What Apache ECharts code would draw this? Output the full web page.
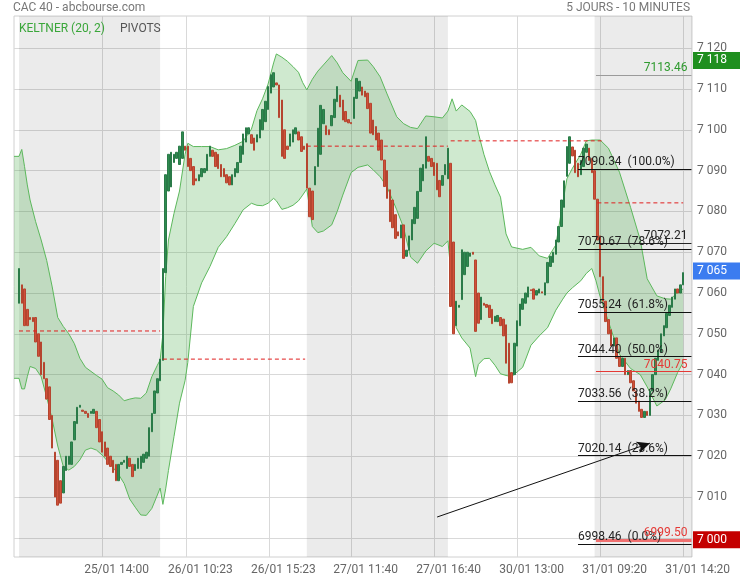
<!DOCTYPE html>
<html><head><meta charset="utf-8">
<script src="https://cdn.jsdelivr.net/npm/echarts@6/dist/echarts.min.js"></script>
<style>html,body{margin:0;padding:0;background:#fff}#c{width:740px;height:580px}</style>
</head><body><div id="c"></div>
<script>
// ---------- DATA ----------
const candleOpen = [
7057.5,7062,7061,7056,7054,7054,7054,7050,7048,7043,7039,7037,7030,7021,7019,7014,7011,7016.5,7018,7018,7024,7028,7032,7031.3,7031,7030.5,7030.5,7030.5,7031,7029,7026,7023.5,7022,7020,7019,7018,7014,7018,7018.5,7017,7019.5,7018,7016.5,7017,7017,7018.5,7019.5,7020,7026,7030.5,7035.5,7038.5,
7043.5,7065,7085,7086,7092,7093,7091.5,7093,7096,7096,7093,7091,7088,7087.5,7088.5,7089.5,7090,7093.5,7095,7094.5,7094,7091.5,7090.5,7089,7088.5,7086.5,7088.5,7089.5,7092,7094,7097,7099,7098.8,7098,7097,7098,7100,7102,7105,7109,7110.5,7111.5,7111,7107.3,7100,7096,7096,7097,7099,7099.5,7098.3,7096,
7096.6,7085.7,7085,7086.5,7091,7094,7101.5,7101,7100,7101,7103,7106.9,7108.5,7107.3,7104.5,7102.5,7101.8,7102.8,7107.7,7109.5,7110.5,7109.5,7109,7106.5,7102.4,7100.8,7099.2,7097.5,7092.6,7090,7085.3,7082.8,7079.2,7075,7073.5,7076.7,7069,7070.5,7073,7077,7078.3,7084.9,7087.5,7090.6,7093.5,7093,7092,7091.8,7087.6,7086.4,7089,7088,
7091.8,7072.5,7052,7056.5,7058.4,7064.5,7066.5,7069,7070,7068.1,7060,7053.5,7057.5,7057.2,7057,7056,7053,7053,7054,7053.6,7052.2,7047.7,7040.5,7040,7047,7052,7056,7057.5,7059,7060.8,7061,7059.5,7060,7060.3,7059.5,7062.5,7066.5,7067.5,7069.5,7072.5,7076.3,7081,7088.6,7091.8,7095.8,7095,7091.8,7089,7091,7094.5,7095.5,7093,
7090,7083,7074,7064,7058,7053.5,7051,7047,7049,7044.5,7042,7044,7040,7041,7038.5,7036,7033.5,7031.5,7029.5,7031,7030,7036,7040,7043.5,7045.5,7049.5,7051.5,7054.5,7056.5,7058.5,7061,7060,7062];
const candleClose = [
7066,7057.5,7052,7052,7053.5,7053,7048,7044.5,7040,7039,7034,7029,7022,7010,7008,7008.5,7017.5,7020,7020,7023.5,7028.5,7032,7032.5,7031,7030.5,7029.5,7031,7031.5,7027,7023.5,7021,7020,7018,7017.5,7016,7014,7018,7018.5,7019,7020,7017.5,7015,7018,7019.5,7020,7020.5,7021,7027,7030.5,7036,7039,7043.8,
7066,7089,7094,7094.5,7094,7094.5,7096,7099.5,7095,7091,7090,7086.5,7087.5,7089,7090.5,7090.5,7094,7096,7093.5,7091,7090.5,7088.5,7088.5,7087,7086.5,7089,7090.5,7092,7096,7099,7100.5,7100.5,7096.7,7095,7098.8,7102.5,7105,7107,7110.6,7113.5,7114,7111,7103,7093.5,7093,7095.2,7099,7100,7100.5,7097.5,7094.7,7095.2,
7085.7,7078.7,7078,7091,7100.4,7106,7105,7098.8,7098.8,7103.5,7107.5,7110.6,7105.6,7102.4,7102,7101.7,7101.5,7108,7112.6,7111.9,7108.5,7108.1,7105.2,7099.2,7098.8,7097.5,7095,7092.6,7086.1,7083.2,7077.5,7076,7073.4,7074,7076.7,7068.5,7070.5,7074,7078,7081,7084.9,7090.6,7091.5,7098.3,7092.3,7091,7088.8,7085.3,7083.6,7088.8,7091.5,7095.5,
7056.7,7050,7058,7057,7070.6,7070,7070,7069.8,7069.5,7050.6,7052.6,7059,7057,7056.5,7054,7052.5,7054.3,7054.5,7052,7049.5,7042.8,7037.9,7038,7047.7,7053.2,7057.3,7058.6,7060,7061.5,7060.6,7058.5,7060.6,7061,7060,7062.5,7067.5,7069,7070,7073,7076.3,7082.8,7087.5,7095.9,7098.3,7093.6,7089.5,7088.5,7092.5,7095.5,7096.5,7092.5,7089.5,
7083,7073,7064,7058,7053,7050,7047,7049,7044,7042,7044,7040,7041,7038,7036,7033,7031,7029.5,7031,7030,7036,7040,7044,7046,7050,7052,7055,7057,7059,7061,7060,7062,7065];
const candleHigh = [
7070.5,7069,7062,7057,7056,7055,7055,7051,7049,7045,7040.5,7038,7031,7022,7020,7015,7019,7021.5,7023,7024.5,7029.5,7034.5,7034,7033,7032.5,7032,7032,7033,7032,7030,7027,7024.5,7023,7021,7020,7019,7019.5,7020,7022,7021,7020.5,7019,7019,7020.5,7024.5,7021.5,7023,7028,7031,7037,7040,7044.5,
7067,7099.5,7098,7096,7098,7096.5,7103,7103,7097.5,7097,7096,7092,7092,7090.5,7092,7093,7095,7100.5,7100,7095.5,7095,7092.5,7091.5,7090,7089.5,7090,7091.5,7093,7097,7100,7103,7101.5,7100,7099,7099.5,7103.5,7106,7110,7111.5,7117,7116.5,7112.5,7112,7108,7101,7097,7103,7101.5,7101.5,7100,7099,7097,
7097,7086.5,7086,7092,7102.5,7107,7106,7102,7101,7109,7110,7113,7109.5,7108,7105,7103.5,7103,7109,7117.5,7114,7111.5,7110.5,7109.8,7107,7103,7101.5,7100,7098.5,7093.5,7091,7086,7083.5,7080,7078,7080,7077.5,7073,7075.5,7079.5,7083.5,7088,7093,7096,7103.2,7096,7094,7093,7092.5,7088.5,7089.5,7092.5,7097.5,
7093,7074,7059,7060,7078,7072,7075,7071,7071,7070,7061,7066,7060,7059,7057.5,7057,7056,7056.5,7055.5,7054.5,7053,7048.5,7043,7049,7055,7060,7061,7062,7063.5,7062,7062,7062,7062.5,7061.5,7064,7069,7070.5,7071.5,7074.5,7078,7084,7089,7102,7103.5,7097.5,7096,7092.5,7093.5,7096.5,7097.5,7097,7094,
7092,7084,7075,7066,7059,7055,7052,7050,7050,7045.5,7045,7045,7042.5,7042,7039.5,7037,7035,7032.5,7032,7032,7037,7041,7045,7047,7051,7053,7056,7058.5,7060.5,7062,7062.5,7063,7070.5];
const candleLow = [
7057,7055,7047,7047,7051,7052,7047,7043,7038,7035.5,7032,7027,7020,7008.5,7000.5,7004,7009,7015,7016,7017,7022,7027,7025,7029.5,7029,7027.5,7028.5,7027,7025.5,7021.5,7019,7018,7016,7010,7012,7012,7013,7016,7013.5,7015.5,7016,7010,7014.5,7015.5,7013,7016,7018.5,7019,7024,7030,7034.5,7038,
7042.5,7063,7083,7084,7090,7091,7091,7092,7092.5,7089.5,7082.5,7082.5,7082.5,7086,7087,7084.5,7088.5,7092,7090,7089,7088,7086.5,7086.5,7084,7085,7085.5,7087.5,7088.5,7090,7092.5,7094,7097.5,7095.5,7090.5,7095.5,7097,7099,7101,7104,7106,7109.5,7110,7101.5,7087,7090.5,7092,7093.5,7095.5,7097.5,7096,7092.5,7094.2,
7085,7073.8,7071.4,7085.5,7090,7093,7100.5,7098,7097.5,7100,7102,7105.5,7104,7101.5,7100.5,7100.5,7100,7101.5,7106,7107.5,7107.5,7107,7104.5,7098,7097.2,7096,7094,7090.2,7085,7082,7076.5,7072.5,7068.9,7071.5,7072,7064.8,7067,7069,7071.8,7075.5,7077.5,7083,7086,7089,7088,7089.5,7087.5,7082,7081.5,7085,7088,7087,
7053,7041.6,7042,7047,7055,7062,7063,7066,7068.5,7049.5,7037.9,7051.5,7055,7053.5,7052,7050,7051.5,7052,7049.5,7046,7041.5,7031.4,7035,7038.5,7046,7050.5,7054.5,7056,7057.5,7058,7057,7058,7058.5,7054,7058.5,7061,7065,7066,7068,7071,7075,7079.5,7087,7090,7092,7088,7086.5,7088,7090,7093.5,7091.5,7081,
7081,7070,7062,7055,7050,7047.5,7043,7044,7041,7039,7038,7036,7037,7035,7033,7030.5,7027,7026,7027,7025.5,7029,7034,7038.5,7042,7044,7048,7050,7053,7055.5,7057,7058.5,7059,7061];

// Keltner channel, read at these candle positions
const bandPos = [-1.8,0,1,2,3,4,6,8,10,12,14,16,18,20,22,24,26,28,30,32,34,36,38,40,42,44,46,48,50,51,52,53,54,56,58,60,61,63,66,69,72,75,78,81,84,86,88,90,92,93,95,97,99,101,102.5,104,106,108,110,113,115,117,120,122.5,126,128,130.5,133,136.5,139,141.5,144,147,150,153,155,156.5,158,160,163,165,166,168,170,172,174,176,178,182,185,188,191,194,196.5,198,200,203,205,207,208.5,210,213,217,221,224.5,227,230.5,233.5,235.5,238,240];
const bandUpper = [7093.5,7093.5,7095.2,7091,7086.5,7082.8,7077.5,7073,7068,7061.5,7054,7051.8,7050,7047.6,7044,7041.8,7040.8,7039.8,7038.9,7036.8,7036,7035,7033.6,7034,7034.3,7034.2,7035.5,7039.5,7042.3,7043.6,7050,7064,7073,7079.5,7085,7094,7096.7,7095.9,7095.9,7095.9,7095.1,7095.4,7096.2,7097.2,7100.2,7104.7,7107.6,7111.2,7116.4,7118.6,7117.8,7116.8,7115.5,7114.1,7111.6,7109.8,7112.4,7114.4,7115.9,7118.2,7116.4,7114,7111.9,7117,7117.1,7115.5,7113,7108.8,7103.2,7101.5,7100.6,7100.3,7103.4,7103.2,7102.9,7104.6,7107.6,7104.6,7106.1,7104.5,7102.3,7099.2,7094,7089.8,7086.5,7083.5,7074.5,7071.3,7070.7,7071.2,7069.1,7068.5,7071.8,7082,7088,7090.6,7094,7097.3,7097.5,7097.5,7097.5,7095.5,7089.6,7081,7073,7063.5,7059.3,7058.6,7058.5,7060.2,7061];
const bandLower = [7039.1,7039.1,7036.5,7036.5,7039.5,7042,7041.5,7039.5,7034.5,7029,7022.5,7017.5,7016.6,7017.5,7019.1,7021.5,7022,7021.5,7020.3,7018.8,7017.2,7015.5,7013.3,7009.5,7007.5,7005.6,7005.5,7007.2,7010.5,7012.2,7008.2,7012,7016.5,7024.8,7033,7038.5,7043,7056.7,7062.5,7066.5,7071.2,7073.8,7077,7080.4,7082,7081.5,7081.4,7082,7083.2,7082.6,7080.5,7080.9,7081.5,7082.6,7084,7085.5,7076.3,7074.8,7075.2,7076.7,7080,7084,7089.5,7090.8,7091.4,7090.2,7088.5,7086,7080.4,7076,7068.8,7067.3,7070.3,7072.2,7071.4,7072.8,7062,7051.5,7049,7046.5,7039.5,7042.5,7043.9,7044,7042.3,7040.2,7039.8,7039.5,7041.8,7047.2,7049.5,7051.5,7055.8,7058.5,7060,7061.3,7063,7064.8,7066,7063,7059.1,7053,7045,7041.5,7040,7037,7032.3,7033.8,7036.5,7040.5,7043];

// shaded sessions (candle index ranges)
const shadeFrom = [0, 104, 208];
const shadeTo = [51, 155, 243.2];

// daily pivots
const pivotFrom = [0, 52, 104, 156, 209];
const pivotTo = [51, 103.4, 155, 210.5, 240];
const pivotValue = [7050.7, 7043.8, 7096, 7097.3, 7082.1];

// Fibonacci retracement
const fibValues = [7090.34, 7070.67, 7055.24, 7044.40, 7033.56, 7020.14, 6998.46];
const fibPct = ['100.0%', '78.6%', '61.8%', '50.0%', '38.2%', '23.6%', '0.0%'];

// horizontal levels
const levelValues = [7113.46, 7072.21, 7040.75, 6999.50];

// price tags on axis
const tagValues = [7117.0, 7065.4, 6999.5];
const tagLabels = ['7 118', '7 065', '7 000'];

// trend arrow (candle index, price)
const arrowFrom = [151.1, 7005.1];
const arrowTo = [228, 7023.2];

// axes
const xTickPos = [30, 60.3, 90.3, 120, 150, 180, 210, 240];
const xTickLabels = ['25/01 14:00', '26/01 10:23', '26/01 15:23', '27/01 11:40', '27/01 16:40', '30/01 13:00', '31/01 09:20', '31/01 14:20'];
const yTicks = [7000, 7010, 7020, 7030, 7040, 7050, 7060, 7070, 7080, 7090, 7100, 7110, 7120];

// ---------- CHART ----------
const FONT = 'Roboto';
const fmtThousands = v => { const s = String(Math.round(v)); return s.slice(0, s.length - 3) + ' ' + s.slice(-3); };

const idx = candleOpen.map((_, i) => i);
const wickData = idx.map(i => [i, candleLow[i], candleHigh[i], candleLow[i], candleHigh[i]]);
const bodyData = idx.map(i => [i, candleOpen[i], candleClose[i],
  Math.min(candleOpen[i], candleClose[i]), Math.max(candleOpen[i], candleClose[i])]);
const upperData = bandPos.map((p, i) => [p, bandUpper[i]]);
const lowerData = bandPos.map((p, i) => [p, bandLower[i]]);
const bandData = bandPos.map((p, i) => [p, bandUpper[i], bandLower[i]]);

const FIB_START = 202, LINE_END = 243, LEVEL_START = 208.5;
const levelStyles = [
  {line: '#9a9a9a', text: '#2e9a2e', width: 1},
  {line: '#222', text: '#222', width: 1},
  {line: '#e53935', text: '#e53935', width: 1},
  {line: '#f07070', text: '#e53935', width: 3}
];
const tagColors = ['#1f8f1f', '#3b7cf0', '#c40000'];
const BAND_LINE = '#5cb85c';
const PIVOT_RED = '#e01e1e';

const pivotSeries = pivotValue.map((v, i) => ({
  name: 'pivot' + i, type: 'line', silent: true, symbol: 'none', z: 5,
  data: [[pivotFrom[i], v], [pivotTo[i], v]],
  lineStyle: {color: PIVOT_RED, width: 1, type: [4, 3]},
  itemStyle: {color: PIVOT_RED}
}));

const chart = echarts.init(document.getElementById('c'), null, {renderer: 'canvas'});
chart.setOption({
  animation: false,
  backgroundColor: '#fff',
  textStyle: {fontFamily: FONT},
  title: [
    {text: 'CAC 40 - abcbourse.com', left: 13, top: 2, padding: 0,
     textStyle: {fontSize: 12, color: '#777', fontWeight: 'normal', fontFamily: FONT}},
    {text: '5 JOURS - 10 MINUTES', right: 50, top: 2, padding: 0,
     textStyle: {fontSize: 12, color: '#777', fontWeight: 'normal', fontFamily: FONT}},
    {text: '{k|KELTNER (20, 2)}{p|PIVOTS}', left: 19, top: 23, padding: 0,
     textStyle: {fontSize: 12, fontWeight: 'normal', fontFamily: FONT,
       rich: {k: {color: '#3aa63a', fontSize: 12, fontFamily: FONT, width: 101},
              p: {color: '#555', fontSize: 12, fontFamily: FONT}}}}
  ],
  grid: {left: 14, right: 48, top: 16, bottom: 23, show: true, borderColor: '#d0d0d0', borderWidth: 1,
         backgroundColor: 'transparent', outerBoundsMode: 'none', containLabel: false},
  xAxis: {
    type: 'value', min: -1.81, max: 243.2,
    axisLine: {show: false}, axisTick: {show: false, customValues: xTickPos},
    splitLine: {show: true, lineStyle: {color: '#d9d9d9', width: 1}},
    axisLabel: {customValues: xTickPos, color: '#666', fontSize: 12, fontFamily: FONT, margin: 7,
      padding: [0, 0, 0, 29], showMinLabel: true, showMaxLabel: true,
      formatter: v => { let b = 0; xTickPos.forEach((p, i) => { if (Math.abs(p - v) < Math.abs(xTickPos[b] - v)) b = i; }); return xTickLabels[b]; }}
  },
  yAxis: {
    type: 'value', position: 'right', min: 6995.3, max: 7127.9, scale: true,
    axisLine: {show: false}, axisTick: {show: false, customValues: yTicks},
    splitLine: {show: true, lineStyle: {color: '#d9d9d9', width: 1}},
    axisLabel: {customValues: yTicks, color: '#666', fontSize: 12, fontFamily: FONT, margin: 5,
      formatter: v => fmtThousands(v)}
  },
  series: [
    {
      name: 'bandFill', type: 'custom', data: bandData, encode: {x: 0, y: [1, 2]}, z: 2, silent: true,
      renderItem: (params, api) => {
        if (params.dataIndex !== 0) return null;
        const up = bandPos.map((p, i) => api.coord([p, bandUpper[i]]));
        const lo = bandPos.map((p, i) => api.coord([p, bandLower[i]])).reverse();
        return {type: 'polygon', shape: {points: up.concat(lo)}, style: {fill: 'rgba(70,170,70,0.26)'}};
      },
      markArea: {silent: true, itemStyle: {color: 'rgba(0,0,0,0.08)'},
        data: shadeFrom.map((s, i) => [{xAxis: s}, {xAxis: shadeTo[i]}])}
    },
    {
      name: 'kUp', type: 'line', data: upperData, symbol: 'none', z: 2, silent: true,
      lineStyle: {color: BAND_LINE, width: 1}
    },
    {
      name: 'kLow', type: 'line', data: lowerData, symbol: 'none', z: 2, silent: true,
      lineStyle: {color: BAND_LINE, width: 1}
    },
    {
      name: 'wick', type: 'candlestick', data: wickData, encode: {x: 0, y: [1, 2, 3, 4]},
      barWidth: 1, z: 3, silent: true,
      itemStyle: {color: '#555', color0: '#555', borderColor: '#555', borderColor0: '#555', borderWidth: 0}
    },
    {
      name: 'body', type: 'candlestick', data: bodyData, encode: {x: 0, y: [1, 2, 3, 4]},
      barWidth: 2, z: 4, silent: true,
      itemStyle: {color: '#2e8b50', color0: '#d0503a', borderColor: '#2a7a48', borderColor0: '#b5452f', borderWidth: 1}
    },
    ...pivotSeries,
    {
      name: 'fib', type: 'line', data: [], silent: true,
      markLine: {silent: true, symbol: ['none', 'none'], z: 6,
        lineStyle: {color: '#111', type: 'solid', width: 1},
        label: {show: true, position: 'insideStartTop', distance: [0, 1], color: '#222', fontSize: 12, fontFamily: FONT},
        data: fibValues.map((v, i) => [
          {coord: [FIB_START, v], lineStyle: {color: '#111', type: 'solid', width: 1},
           label: {formatter: v.toFixed(2) + '  (' + fibPct[i] + ')'}},
          {coord: [LINE_END, v]}])}
    },
    {
      name: 'levels', type: 'line', data: [], silent: true,
      markLine: {silent: true, symbol: ['none', 'none'], z: 6,
        label: {show: true, position: 'insideEndTop', distance: [4, 1], fontSize: 12, fontFamily: FONT},
        data: levelValues.map((v, i) => [
          {coord: [LEVEL_START, v], lineStyle: {color: levelStyles[i].line, width: levelStyles[i].width, type: 'solid'},
           label: {formatter: v.toFixed(2), color: levelStyles[i].text}},
          {coord: [LINE_END, v]}])}
    },
    {
      name: 'arrow', type: 'line', data: [], silent: true,
      markLine: {silent: true, symbol: ['none', 'arrow'], symbolSize: [9, 13], z: 7,
        lineStyle: {color: '#111', type: 'solid', width: 1}, label: {show: false},
        data: [[{coord: arrowFrom}, {coord: arrowTo}]]}
    },
    {
      name: 'tags', type: 'line', data: [], silent: true,
      markLine: {silent: true, symbol: ['none', 'none'], z: 8,
        lineStyle: {color: 'rgba(0,0,0,0)', width: 1, type: 'solid'},
        data: tagValues.map((v, i) => ({yAxis: v,
          lineStyle: {color: 'rgba(0,0,0,0)', width: 1, type: 'solid'},
          label: {show: true, position: 'end', distance: 1, formatter: tagLabels[i],
            color: '#fff', fontSize: 12, fontFamily: FONT, backgroundColor: tagColors[i],
            width: 40, padding: [3, 3, 2, 4], align: 'left'}}))}
    }
  ]
});
</script>
</body></html>
